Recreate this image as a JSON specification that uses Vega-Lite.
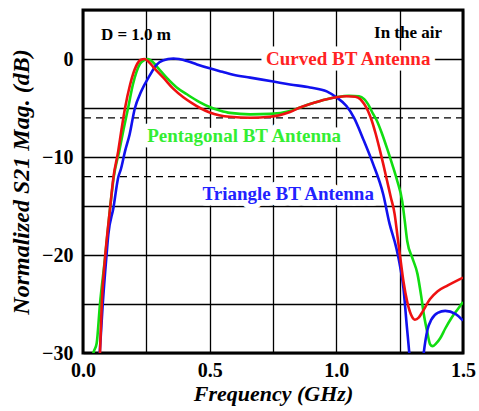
{
  "$schema": "https://vega.github.io/schema/vega-lite/v6.json",
  "width": 380,
  "height": 343,
  "autosize": {"type": "none"},
  "padding": {"left": 83, "top": 10, "right": 16, "bottom": 58},
  "background": "white",
  "config": {
    "view": {"stroke": "black", "strokeWidth": 3},
    "axis": {
      "grid": true, "gridColor": "black", "gridWidth": 1.3, "gridOpacity": 1,
      "ticks": false, "domain": false, "labelFlush": false,
      "labelFont": "Liberation Serif", "labelFontWeight": "bold", "labelFontSize": 20, "labelColor": "black",
      "titleFont": "Liberation Serif", "titleFontWeight": "bold", "titleFontStyle": "italic", "titleFontSize": 24, "titleColor": "black"
    }
  },
  "datasets": {
    "curves": [
      {"series": "Pentagonal", "f": 0.02, "db": -34},
      {"series": "Pentagonal", "f": 0.041, "db": -30},
      {"series": "Pentagonal", "f": 0.054, "db": -29},
      {"series": "Pentagonal", "f": 0.067, "db": -25},
      {"series": "Pentagonal", "f": 0.087, "db": -20.3},
      {"series": "Pentagonal", "f": 0.107, "db": -15.2},
      {"series": "Pentagonal", "f": 0.121, "db": -12.1},
      {"series": "Pentagonal", "f": 0.143, "db": -9.4},
      {"series": "Pentagonal", "f": 0.16, "db": -7.2},
      {"series": "Pentagonal", "f": 0.178, "db": -5},
      {"series": "Pentagonal", "f": 0.197, "db": -2.6},
      {"series": "Pentagonal", "f": 0.225, "db": -0.5},
      {"series": "Pentagonal", "f": 0.242, "db": -0.1},
      {"series": "Pentagonal", "f": 0.257, "db": 0},
      {"series": "Pentagonal", "f": 0.275, "db": -0.3},
      {"series": "Pentagonal", "f": 0.296, "db": -0.9},
      {"series": "Pentagonal", "f": 0.33, "db": -1.9},
      {"series": "Pentagonal", "f": 0.37, "db": -2.9},
      {"series": "Pentagonal", "f": 0.41, "db": -3.6},
      {"series": "Pentagonal", "f": 0.46, "db": -4.4},
      {"series": "Pentagonal", "f": 0.5, "db": -4.9},
      {"series": "Pentagonal", "f": 0.54, "db": -5.25},
      {"series": "Pentagonal", "f": 0.58, "db": -5.5},
      {"series": "Pentagonal", "f": 0.66, "db": -5.65},
      {"series": "Pentagonal", "f": 0.738, "db": -5.6},
      {"series": "Pentagonal", "f": 0.817, "db": -5.3},
      {"series": "Pentagonal", "f": 0.857, "db": -4.95},
      {"series": "Pentagonal", "f": 0.896, "db": -4.6},
      {"series": "Pentagonal", "f": 0.962, "db": -4.1},
      {"series": "Pentagonal", "f": 1.0, "db": -3.9},
      {"series": "Pentagonal", "f": 1.05, "db": -3.75},
      {"series": "Pentagonal", "f": 1.09, "db": -3.8},
      {"series": "Pentagonal", "f": 1.11, "db": -4.1},
      {"series": "Pentagonal", "f": 1.125, "db": -4.6},
      {"series": "Pentagonal", "f": 1.145, "db": -5.6},
      {"series": "Pentagonal", "f": 1.16, "db": -6.3},
      {"series": "Pentagonal", "f": 1.18, "db": -7.6},
      {"series": "Pentagonal", "f": 1.2, "db": -9.1},
      {"series": "Pentagonal", "f": 1.22, "db": -10.7},
      {"series": "Pentagonal", "f": 1.24, "db": -12.4},
      {"series": "Pentagonal", "f": 1.26, "db": -14.5},
      {"series": "Pentagonal", "f": 1.27, "db": -16.5},
      {"series": "Pentagonal", "f": 1.28, "db": -18.6},
      {"series": "Pentagonal", "f": 1.3, "db": -20.3},
      {"series": "Pentagonal", "f": 1.32, "db": -21.9},
      {"series": "Pentagonal", "f": 1.335, "db": -24.2},
      {"series": "Pentagonal", "f": 1.345, "db": -26},
      {"series": "Pentagonal", "f": 1.36, "db": -28},
      {"series": "Pentagonal", "f": 1.37, "db": -29.1},
      {"series": "Pentagonal", "f": 1.38, "db": -29.3},
      {"series": "Pentagonal", "f": 1.395, "db": -29},
      {"series": "Pentagonal", "f": 1.41, "db": -28.5},
      {"series": "Pentagonal", "f": 1.43, "db": -27.5},
      {"series": "Pentagonal", "f": 1.455, "db": -26.4},
      {"series": "Pentagonal", "f": 1.48, "db": -25.5},
      {"series": "Pentagonal", "f": 1.5, "db": -24.8},

      {"series": "Triangle", "f": 0.055, "db": -34},
      {"series": "Triangle", "f": 0.066, "db": -30},
      {"series": "Triangle", "f": 0.078, "db": -25},
      {"series": "Triangle", "f": 0.092, "db": -20.3},
      {"series": "Triangle", "f": 0.1, "db": -17.9},
      {"series": "Triangle", "f": 0.12, "db": -15.2},
      {"series": "Triangle", "f": 0.139, "db": -12.1},
      {"series": "Triangle", "f": 0.15, "db": -11.2},
      {"series": "Triangle", "f": 0.166, "db": -9.4},
      {"series": "Triangle", "f": 0.184, "db": -7.7},
      {"series": "Triangle", "f": 0.204, "db": -5.1},
      {"series": "Triangle", "f": 0.23, "db": -3.3},
      {"series": "Triangle", "f": 0.263, "db": -1.7},
      {"series": "Triangle", "f": 0.29, "db": -0.6},
      {"series": "Triangle", "f": 0.315, "db": -0.15},
      {"series": "Triangle", "f": 0.357, "db": 0.05},
      {"series": "Triangle", "f": 0.41, "db": -0.2},
      {"series": "Triangle", "f": 0.45, "db": -0.55},
      {"series": "Triangle", "f": 0.5, "db": -0.95},
      {"series": "Triangle", "f": 0.55, "db": -1.3},
      {"series": "Triangle", "f": 0.593, "db": -1.6},
      {"series": "Triangle", "f": 0.66, "db": -1.9},
      {"series": "Triangle", "f": 0.751, "db": -2.3},
      {"series": "Triangle", "f": 0.817, "db": -2.6},
      {"series": "Triangle", "f": 0.896, "db": -2.9},
      {"series": "Triangle", "f": 0.962, "db": -3.3},
      {"series": "Triangle", "f": 1.0, "db": -3.9},
      {"series": "Triangle", "f": 1.04, "db": -4.8},
      {"series": "Triangle", "f": 1.07, "db": -6.0},
      {"series": "Triangle", "f": 1.105, "db": -8.1},
      {"series": "Triangle", "f": 1.145, "db": -10.7},
      {"series": "Triangle", "f": 1.185, "db": -13.8},
      {"series": "Triangle", "f": 1.21, "db": -16.8},
      {"series": "Triangle", "f": 1.237, "db": -19.3},
      {"series": "Triangle", "f": 1.252, "db": -21.2},
      {"series": "Triangle", "f": 1.265, "db": -23.4},
      {"series": "Triangle", "f": 1.278, "db": -27.2},
      {"series": "Triangle", "f": 1.288, "db": -30},
      {"series": "Triangle", "f": 1.3, "db": -34},
      {"series": "Triangle", "f": 1.33, "db": -34},
      {"series": "Triangle", "f": 1.345, "db": -30},
      {"series": "Triangle", "f": 1.36, "db": -27.6},
      {"series": "Triangle", "f": 1.375, "db": -26.6},
      {"series": "Triangle", "f": 1.4, "db": -25.9},
      {"series": "Triangle", "f": 1.43, "db": -25.7},
      {"series": "Triangle", "f": 1.47, "db": -26},
      {"series": "Triangle", "f": 1.5, "db": -26.7},

      {"series": "Curved", "f": 0.055, "db": -34},
      {"series": "Curved", "f": 0.067, "db": -30},
      {"series": "Curved", "f": 0.074, "db": -25},
      {"series": "Curved", "f": 0.087, "db": -20.3},
      {"series": "Curved", "f": 0.107, "db": -15.2},
      {"series": "Curved", "f": 0.12, "db": -12.1},
      {"series": "Curved", "f": 0.139, "db": -9.4},
      {"series": "Curved", "f": 0.152, "db": -7.2},
      {"series": "Curved", "f": 0.166, "db": -5},
      {"series": "Curved", "f": 0.186, "db": -2.6},
      {"series": "Curved", "f": 0.21, "db": -0.7},
      {"series": "Curved", "f": 0.227, "db": -0.1},
      {"series": "Curved", "f": 0.243, "db": 0},
      {"series": "Curved", "f": 0.26, "db": -0.3},
      {"series": "Curved", "f": 0.28, "db": -0.9},
      {"series": "Curved", "f": 0.317, "db": -1.9},
      {"series": "Curved", "f": 0.355, "db": -3.0},
      {"series": "Curved", "f": 0.396, "db": -3.9},
      {"series": "Curved", "f": 0.43, "db": -4.5},
      {"series": "Curved", "f": 0.462, "db": -5.0},
      {"series": "Curved", "f": 0.5, "db": -5.45},
      {"series": "Curved", "f": 0.58, "db": -5.9},
      {"series": "Curved", "f": 0.66, "db": -6.0},
      {"series": "Curved", "f": 0.738, "db": -5.9},
      {"series": "Curved", "f": 0.817, "db": -5.4},
      {"series": "Curved", "f": 0.857, "db": -4.95},
      {"series": "Curved", "f": 0.896, "db": -4.6},
      {"series": "Curved", "f": 0.962, "db": -4.1},
      {"series": "Curved", "f": 1.0, "db": -3.9},
      {"series": "Curved", "f": 1.04, "db": -3.8},
      {"series": "Curved", "f": 1.075, "db": -3.85},
      {"series": "Curved", "f": 1.095, "db": -4.1},
      {"series": "Curved", "f": 1.11, "db": -4.6},
      {"series": "Curved", "f": 1.125, "db": -5.3},
      {"series": "Curved", "f": 1.14, "db": -6.3},
      {"series": "Curved", "f": 1.155, "db": -7.6},
      {"series": "Curved", "f": 1.17, "db": -9.1},
      {"series": "Curved", "f": 1.185, "db": -10.7},
      {"series": "Curved", "f": 1.2, "db": -12.4},
      {"series": "Curved", "f": 1.215, "db": -14.1},
      {"series": "Curved", "f": 1.23, "db": -15.8},
      {"series": "Curved", "f": 1.242, "db": -18.2},
      {"series": "Curved", "f": 1.253, "db": -20.4},
      {"series": "Curved", "f": 1.265, "db": -22.7},
      {"series": "Curved", "f": 1.28, "db": -24.8},
      {"series": "Curved", "f": 1.295, "db": -26.1},
      {"series": "Curved", "f": 1.31, "db": -26.6},
      {"series": "Curved", "f": 1.325, "db": -26.4},
      {"series": "Curved", "f": 1.34, "db": -25.8},
      {"series": "Curved", "f": 1.37, "db": -24.5},
      {"series": "Curved", "f": 1.4, "db": -23.7},
      {"series": "Curved", "f": 1.44, "db": -23.1},
      {"series": "Curved", "f": 1.5, "db": -22.3}
    ],
    "refs": [{"db": -6}, {"db": -12}],
    "names": [
      {"series": "Curved", "label": "Curved BT Antenna", "f": 1.047, "db": 0.05},
      {"series": "Pentagonal", "label": "Pentagonal BT Antenna", "f": 0.636, "db": -7.86},
      {"series": "Triangle", "label": "Triangle BT Antenna", "f": 0.81, "db": -13.8}
    ],
    "notes": [
      {"label": "D = 1.0 m", "f": 0.209, "db": 2.45},
      {"label": "In the air", "f": 1.283, "db": 2.65}
    ]
  },
  "layer": [
    {
      "data": {"name": "refs"},
      "mark": {"type": "rule", "color": "black", "strokeWidth": 1.3, "strokeDash": [7, 5]},
      "encoding": {
        "y": {"field": "db", "type": "quantitative", "scale": {"domain": [-30, 5], "nice": false, "zero": false},
          "axis": {"values": [-30, -25, -20, -15, -10, -5, 0, 5], "labelExpr": "datum.value % 10 == 0 ? datum.label : ''", "labelPadding": 10, "title": "Normalized S21 Mag. (dB)", "titlePadding": 8}}
      }
    },
    {
      "data": {"name": "names"},
      "mark": {"type": "text", "font": "Liberation Serif", "fontWeight": "bold", "fontSize": 19, "fill": "white", "stroke": "white", "strokeWidth": 11, "strokeJoin": "round", "align": "center", "baseline": "middle"},
      "encoding": {
        "x": {"field": "f", "type": "quantitative", "scale": {"domain": [0, 1.5], "nice": false, "zero": false},
          "axis": {"values": [0, 0.25, 0.5, 0.75, 1, 1.25, 1.5], "labelExpr": "datum.value % 0.5 == 0 ? format(datum.value, '.1f') : ''", "labelPadding": 7, "labelFontSize": 20, "title": "Frequency (GHz)", "titleFontSize": 22, "titlePadding": 3}},
        "y": {"field": "db", "type": "quantitative"},
        "text": {"field": "label"}
      }
    },
    {
      "data": {"name": "curves"},
      "mark": {"type": "line", "strokeWidth": 2.6, "clip": true, "interpolate": "monotone"},
      "encoding": {
        "x": {"field": "f", "type": "quantitative"},
        "y": {"field": "db", "type": "quantitative"},
        "color": {"field": "series", "type": "nominal", "scale": {"domain": ["Curved", "Pentagonal", "Triangle"], "range": ["#ee1111", "#11dd11", "#1111ee"]}, "legend": null}
      }
    },
    {
      "data": {"name": "names"},
      "mark": {"type": "text", "font": "Liberation Serif", "fontWeight": "bold", "fontSize": 19, "align": "center", "baseline": "middle"},
      "encoding": {
        "x": {"field": "f", "type": "quantitative"},
        "y": {"field": "db", "type": "quantitative"},
        "text": {"field": "label"},
        "color": {"field": "series", "type": "nominal", "scale": {"domain": ["Curved", "Pentagonal", "Triangle"], "range": ["#ff2222", "#33ee33", "#2222ff"]}, "legend": null}
      }
    },
    {
      "data": {"name": "notes"},
      "mark": {"type": "text", "font": "Liberation Serif", "fontWeight": "bold", "fontSize": 17, "color": "black", "align": "center", "baseline": "middle"},
      "encoding": {
        "x": {"field": "f", "type": "quantitative"},
        "y": {"field": "db", "type": "quantitative"},
        "text": {"field": "label"}
      }
    }
  ],
  "resolve": {"scale": {"color": "independent"}}
}
